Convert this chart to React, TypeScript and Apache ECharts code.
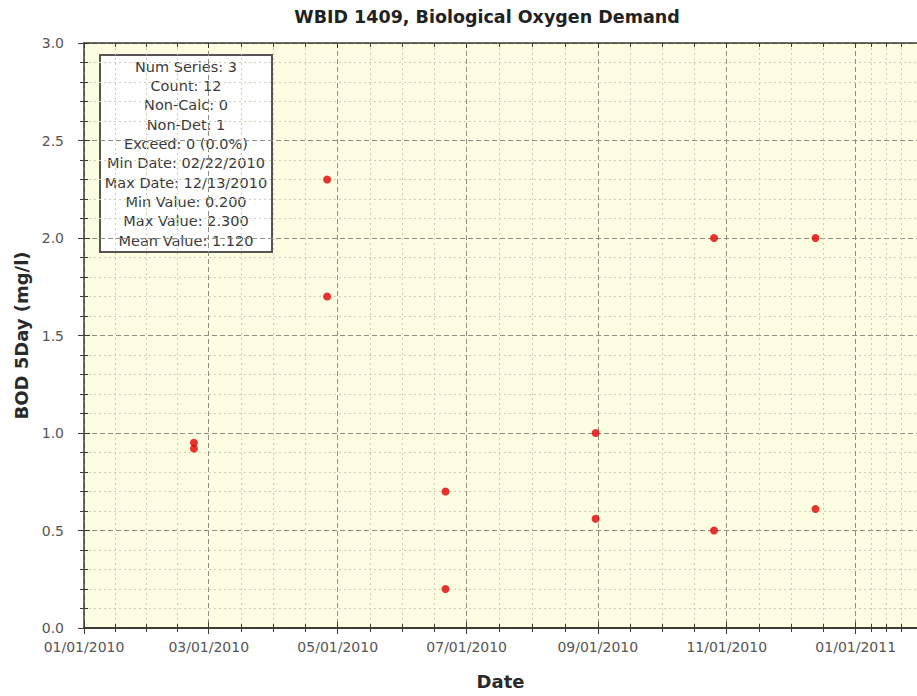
import React, { useEffect, useRef } from "react";
import * as echarts from "echarts";

const chartTitle = "WBID 1409, Biological Oxygen Demand";
const xAxisName = "Date";
const yAxisName = "BOD 5Day (mg/l)";

const sampleDates = [
  "2010-02-22", "2010-02-22",
  "2010-04-26", "2010-04-26",
  "2010-06-21", "2010-06-21",
  "2010-08-31", "2010-08-31",
  "2010-10-26", "2010-10-26",
  "2010-12-13", "2010-12-13",
];
const bodValues = [0.95, 0.92, 2.3, 1.7, 0.7, 0.2, 1.0, 0.56, 2.0, 0.5, 2.0, 0.61];

const xMin = "2010-01-01";
const xMax = "2011-01-30";
const yMin = 0;
const yMax = 3;
const yInterval = 0.5;

const statsLines = [
  "Num Series: 3",
  "Count: 12",
  "Non-Calc: 0",
  "Non-Det: 1",
  "Exceed: 0 (0.0%)",
  "Min Date: 02/22/2010",
  "Max Date: 12/13/2010",
  "Min Value: 0.200",
  "Max Value: 2.300",
  "Mean Value: 1.120",
];

const FONT = "DejaVu Sans";
const AXIS_DARK = "#3c3c34";

function fmtDate(v: number) {
  const d = new Date(v);
  const mm = String(d.getMonth() + 1).padStart(2, "0");
  const dd = String(d.getDate()).padStart(2, "0");
  return `${mm}/${dd}/${d.getFullYear()}`;
}

export default function App() {
  const ref = useRef<HTMLDivElement>(null);
  useEffect(() => {
    if (!ref.current) return;
    const chart = echarts.init(ref.current, null, { renderer: "svg" });
    const DAY = 86400000;
    const baseX = {
      type: "time",
      min: xMin,
      max: xMax,
      minInterval: 70 * DAY,
      maxInterval: 70 * DAY,
    };
    const baseY = {
      type: "value",
      min: yMin,
      max: yMax,
      interval: yInterval,
    };
    const data = sampleDates.map((d, i) => [d, bodValues[i]]);
    chart.setOption({
      animation: false,
      backgroundColor: "#ffffff",
      grid: {
        left: 84,
        top: 43,
        right: 0,
        bottom: 68,
        show: true,
        backgroundColor: "#fdfde2",
        borderWidth: 0,
        containLabel: false,
        outerBoundsMode: "none",
      },
      xAxis: [
        {
          ...baseX,
          position: "bottom",
          name: xAxisName,
          nameLocation: "middle",
          nameGap: 44,
          nameTextStyle: { fontFamily: FONT, fontSize: 18, fontWeight: "bold", color: "#2a2a2a" },
          axisLine: { show: true, onZero: false, lineStyle: { color: AXIS_DARK, width: 2 } },
          axisTick: { show: true, inside: false, length: 6, lineStyle: { color: AXIS_DARK } },
          minorTick: { show: true, splitNumber: 4, length: 4, lineStyle: { color: AXIS_DARK } },
          axisLabel: {
            show: true,
            margin: 12,
            fontFamily: FONT,
            fontSize: 14,
            color: "#555555",
            formatter: (v: number) => fmtDate(v),
          },
          splitLine: { show: true, lineStyle: { color: "#8f8f84", type: [5, 3], width: 1 } },
          minorSplitLine: { show: true, lineStyle: { color: "#cfcfb8", type: [2, 3], width: 1 } },
        },
        {
          ...baseX,
          position: "bottom",
          axisLine: { show: false, onZero: false },
          axisTick: { show: true, inside: true, length: 6, lineStyle: { color: AXIS_DARK } },
          minorTick: { show: true, splitNumber: 4, length: 4, lineStyle: { color: AXIS_DARK } },
          axisLabel: { show: false },
          splitLine: { show: false },
        },
        {
          ...baseX,
          position: "top",
          axisLine: { show: true, onZero: false, lineStyle: { color: AXIS_DARK, width: 1.5 } },
          axisTick: { show: true, inside: true, length: 5, lineStyle: { color: AXIS_DARK } },
          minorTick: { show: true, splitNumber: 4, length: 4, lineStyle: { color: AXIS_DARK } },
          axisLabel: { show: false },
          splitLine: { show: false },
        },
      ],
      yAxis: [
        {
          ...baseY,
          position: "left",
          name: yAxisName,
          nameLocation: "middle",
          nameGap: 52,
          nameTextStyle: { fontFamily: FONT, fontSize: 18, fontWeight: "bold", color: "#2a2a2a" },
          axisLine: { show: true, onZero: false, lineStyle: { color: AXIS_DARK, width: 1.5 } },
          axisTick: { show: true, inside: false, length: 6, lineStyle: { color: AXIS_DARK } },
          minorTick: { show: true, splitNumber: 5, length: 4, lineStyle: { color: AXIS_DARK } },
          axisLabel: {
            show: true,
            margin: 20,
            fontFamily: FONT,
            fontSize: 14,
            color: "#555555",
            formatter: (v: number) => v.toFixed(1),
          },
          splitLine: { show: true, lineStyle: { color: "#8f8f84", type: [5, 3], width: 1 } },
          minorSplitLine: { show: true, lineStyle: { color: "#cfcfb8", type: [2, 3], width: 1 } },
        },
        {
          ...baseY,
          position: "left",
          axisLine: { show: false, onZero: false },
          axisTick: { show: true, inside: true, length: 6, lineStyle: { color: AXIS_DARK } },
          minorTick: { show: true, splitNumber: 5, length: 4, lineStyle: { color: AXIS_DARK } },
          axisLabel: { show: false },
          splitLine: { show: false },
        },
      ],
      series: [
        {
          name: "BOD 5Day",
          type: "scatter",
          xAxisIndex: 0,
          yAxisIndex: 0,
          symbol: "circle",
          symbolSize: 8,
          itemStyle: { color: "#e00000" },
          data,
          z: 5,
        },
      ],
      graphic: [
        {
          type: "text",
          x: 487,
          y: 17,
          style: {
            text: chartTitle,
            fontFamily: FONT,
            fontSize: 17.5,
            fontWeight: "bold",
            fill: "#222222",
            align: "center",
            verticalAlign: "middle",
          },
        },
        {
          type: "group",
          x: 100,
          y: 55,
          z: 100,
          children: [
            {
              type: "rect",
              shape: { x: 0, y: 0, width: 172, height: 197 },
              style: { fill: "#ffffff", stroke: "#555555", lineWidth: 2 },
            },
            {
              type: "text",
              x: 86,
              y: 2,
              style: {
                text: statsLines.join("\n"),
                fontFamily: FONT,
                fontSize: 14.5,
                lineHeight: 19.33,
                fill: "#3a3a3a",
                align: "center",
                verticalAlign: "top",
              },
            },
          ],
        },
      ],
    });
    return () => chart.dispose();
  }, []);
  return (
    <div
      ref={ref}
      style={{ position: "absolute", left: 0, top: 0, width: 917, height: 696 }}
    />
  );
}
